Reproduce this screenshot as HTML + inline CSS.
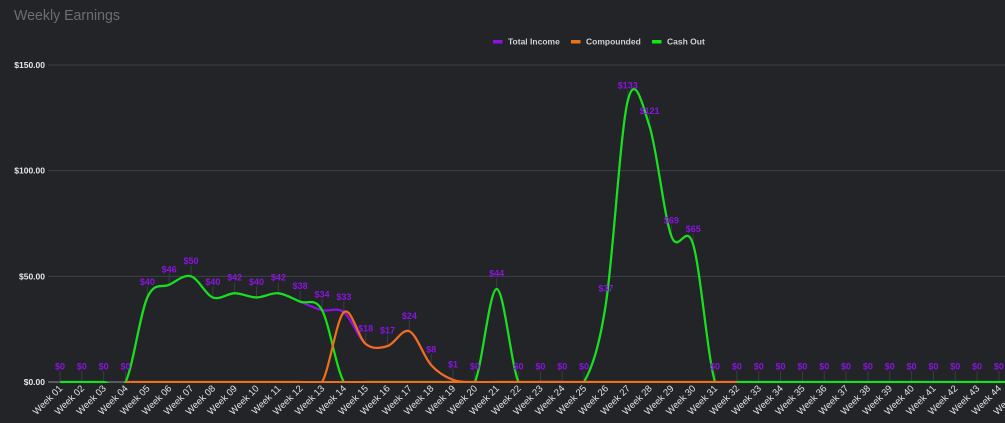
<!DOCTYPE html>
<html><head><meta charset="utf-8">
<style>
html,body{margin:0;padding:0;background:#222428;width:1005px;height:423px;overflow:hidden}
svg{display:block}
</style></head>
<body>
<svg id="c" width="1005" height="423" xmlns="http://www.w3.org/2000/svg" font-family="Liberation Sans, Arial, sans-serif">
<rect width="1005" height="423" fill="#222428"/>
<text x="14" y="20" font-size="14.5" fill="#6c6e71" textLength="106" lengthAdjust="spacingAndGlyphs">Weekly Earnings</text>
<rect x="493" y="40" width="9.5" height="3.5" fill="#8d10e8"/>
<text x="508" y="44.5" font-size="8.5" font-weight="bold" fill="#cfd0d2">Total Income</text>
<rect x="571" y="40" width="9.5" height="3.5" fill="#ee7018"/>
<text x="586" y="44.5" font-size="8.5" font-weight="bold" fill="#cfd0d2">Compounded</text>
<rect x="652" y="40" width="9.5" height="3.5" fill="#12e612"/>
<text x="667" y="44.5" font-size="8.5" font-weight="bold" fill="#cfd0d2">Cash Out</text>
<defs><clipPath id="pc" clipPathUnits="userSpaceOnUse"><rect x="48" y="0" width="957" height="383"/></clipPath></defs>
</svg>
<script>
(function(){
const svg=document.getElementById('c');const NS='http://www.w3.org/2000/svg';
function el(t,a,txt,parent){const e=document.createElementNS(NS,t);for(const k in a)e.setAttribute(k,a[k]);if(txt!=null)e.textContent=txt;(parent||svg).appendChild(e);return e;}
const N=46;
const X=i=>60+i*21.835;
const Y=v=>382-v*2.1133;
const total=new Array(N).fill(0);
const vals=[0,0,0,0,40,46,50,40,42,40,42,38,34,33,18,17,24,8,1,0,44,0,0,0,0,37,133,121,69,65];
for(let i=0;i<vals.length;i++)total[i]=vals[i];
const cash=total.slice();for(let i=13;i<=18;i++)cash[i]=0;
const comp=new Array(N).fill(0);[33,18,17,24,8,1].forEach((v,k)=>comp[13+k]=v);
[50,100,150].forEach(v=>{el('line',{x1:48,x2:1005,y1:Y(v),y2:Y(v),stroke:'#3d4044','stroke-width':1});});
el('line',{x1:48,x2:1005,y1:382,y2:382,stroke:'#6a6c70','stroke-width':1.5});
[0,50,100,150].forEach(v=>{el('text',{x:45,y:Y(v)+3,'font-size':8.5,'font-weight':'bold',fill:'#e6e6e6','text-anchor':'end'},'$'+v+'.00');});
for(let i=0;i<N;i++){const yp=Y(total[i]);el('line',{x1:X(i),x2:X(i),y1:yp-11,y2:yp,stroke:'#3a3d42','stroke-width':1});}
function path(v,i0,i1){const P=[];for(let i=i0;i<=i1;i++)P.push([X(i),Y(v[i])]);
 let d='M'+P[0][0].toFixed(2)+','+P[0][1].toFixed(2);
 for(let i=0;i<P.length-1;i++){const p0=P[Math.max(i-1,0)],p1=P[i],p2=P[i+1],p3=P[Math.min(i+2,P.length-1)];
  const c1=[p1[0]+(p2[0]-p0[0])/6,p1[1]+(p2[1]-p0[1])/6],c2=[p2[0]-(p3[0]-p1[0])/6,p2[1]-(p3[1]-p1[1])/6];
  d+='C'+c1[0].toFixed(2)+','+c1[1].toFixed(2)+' '+c2[0].toFixed(2)+','+c2[1].toFixed(2)+' '+p2[0].toFixed(2)+','+p2[1].toFixed(2);}
 return d;}
const g=el('g',{'clip-path':'url(#pc)'});
el('path',{d:path(total,0,N-1),fill:'none',stroke:'#8d10e8','stroke-width':2.2,'stroke-linejoin':'round'},null,g);
el('path',{d:path(cash,0,N-1),fill:'none',stroke:'#12e612','stroke-width':2.2,'stroke-linejoin':'round'},null,g);
el('path',{d:path(comp,3,31),fill:'none',stroke:'#ee7018','stroke-width':2.2,'stroke-linejoin':'round'},null,g);
el('rect',{x:X(3),y:381,width:(X(31)-X(3)).toFixed(2),height:2,fill:'#ee7018'});
for(let i=0;i<N;i++){el('text',{x:X(i),y:Y(total[i])-12.5,'font-size':9,'font-weight':'bold',fill:'#8a14e0','text-anchor':'middle'},'$'+total[i]);}
for(let i=0;i<N;i++){const n=i+1;const s='Week '+(n<10?'0'+n:n);
 el('text',{transform:'translate('+(X(i)+3).toFixed(2)+',389) rotate(-45)','font-size':9.5,fill:'#e4e4e4','text-anchor':'end'},s);}
})();
</script>
</body></html>
